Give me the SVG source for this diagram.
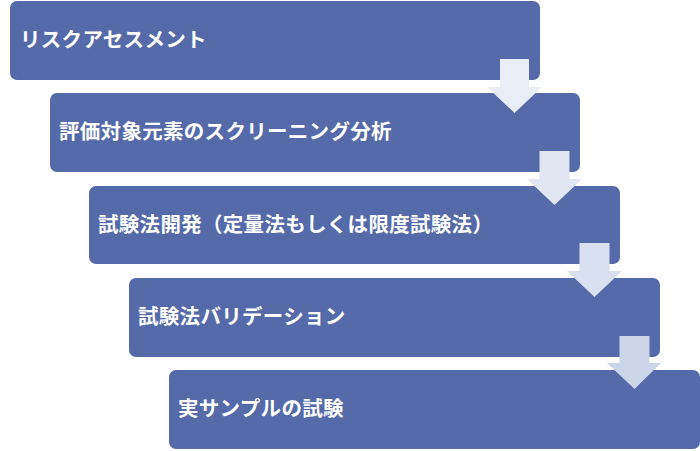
<svg xmlns="http://www.w3.org/2000/svg" width="700" height="451" viewBox="0 0 700 451">
<style>
.box{fill:#546aa9;}
.lbl{font-family:"Noto Sans CJK JP","Noto Sans",sans-serif;font-weight:700;font-size:20.5px;letter-spacing:0.3px;fill:#ffffff;}
.arr{stroke:none;}
</style>
<rect width="700" height="451" fill="#ffffff"/>
<g id="node1"><rect class="box" x="10" y="1" width="530" height="79" rx="7"/><text class="lbl" x="20" y="47">リスクアセスメント</text></g>
<g id="node2"><rect class="box" x="50" y="93" width="530" height="79" rx="7"/><text class="lbl" x="59" y="139">評価対象元素のスクリーニング分析</text></g>
<g id="node3"><rect class="box" x="89" y="186" width="531" height="78" rx="7"/><text class="lbl" x="98" y="232">試験法開発（定量法もしくは限度試験法）</text></g>
<g id="node4"><rect class="box" x="129" y="278" width="531" height="79" rx="7"/><text class="lbl" x="138" y="324">試験法バリデーション</text></g>
<g id="node5"><rect class="box" x="169" y="370" width="531" height="79" rx="7"/><text class="lbl" x="178" y="416">実サンプルの試験</text></g>
<g id="connectors">
<polygon class="arr" fill="#e9edf6" points="500,59 529,59 529,87 542,87 514.5,113 487,87 500,87"/>
<polygon class="arr" fill="#e1e6f2" points="539.5,151 569.5,151 569.5,179 582,179 554.5,205 527,179 539.5,179"/>
<polygon class="arr" fill="#d9e0ef" points="579.5,243 609.5,243 609.5,271 622,271 594.5,297 567,271 579.5,271"/>
<polygon class="arr" fill="#cbd5e9" points="619.5,336 649.5,336 649.5,363 661,363 634.5,389 607,363 619.5,363"/>
</g>
</svg>
